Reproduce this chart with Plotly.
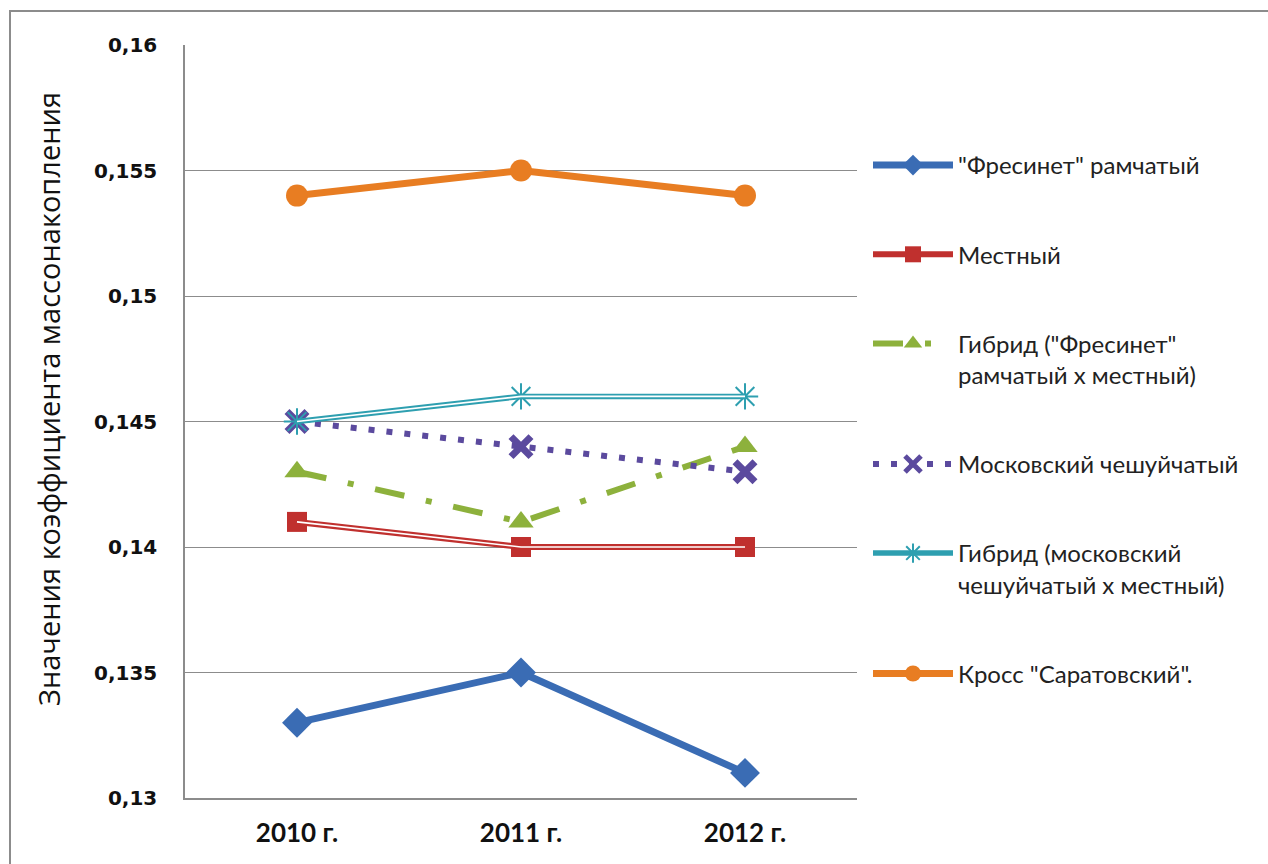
import plotly.graph_objects as go

years = ["2010 г.", "2011 г.", "2012 г."]
frezinet = [0.133, 0.135, 0.131]
mestny = [0.141, 0.140, 0.140]
hybrid_fm = [0.143, 0.141, 0.144]
moskovsky = [0.145, 0.144, 0.143]
hybrid_mm = [0.145, 0.146, 0.146]
saratov = [0.154, 0.155, 0.154]

names = [
    '"Фресинет" рамчатый',
    "Местный",
    'Гибрид ("Фресинет"<br>рамчатый х местный)',
    "Московский чешуйчатый",
    "Гибрид (московский<br>чешуйчатый х местный)",
    'Кросс "Саратовский".',
]
y_ticks = [0.13, 0.135, 0.14, 0.145, 0.15, 0.155, 0.16]
y_ticktext = ["0,13", "0,135", "0,14", "0,145", "0,15", "0,155", "0,16"]
y_title = "Значения коэффициента массонакопления"

W, H = 1268, 864
L, R, T, B = 185, 411, 45, 66
pw, ph = W - L - R, H - T - B

fig = go.Figure()

# Фресинет
fig.add_trace(go.Scatter(x=years, y=frezinet, name=names[0], legendgroup="g1",
    mode="lines+markers", line=dict(color="#3a6cb4", width=7),
    marker=dict(symbol="diamond", size=23, color="#3a6cb4")))
# Местный (double line)
fig.add_trace(go.Scatter(x=years, y=mestny, name=names[1], legendgroup="g2",
    mode="lines+markers", line=dict(color="#c0302e", width=6),
    marker=dict(symbol="square", size=20, color="#c0302e")))
fig.add_trace(go.Scatter(x=years, y=mestny, legendgroup="g2", showlegend=False,
    mode="lines", line=dict(color="#ffffff", width=1.6), hoverinfo="skip"))
# Гибрид Фресинет
fig.add_trace(go.Scatter(x=years, y=hybrid_fm, name=names[2], legendgroup="g3",
    mode="lines+markers", line=dict(color="#8db13c", width=6, dash="30px,22px,6px,22px"),
    marker=dict(symbol="triangle-up", size=22, color="#8db13c")))
# Московский
fig.add_trace(go.Scatter(x=years, y=moskovsky, name=names[3], legendgroup="g4",
    mode="lines+markers", line=dict(color="#5b4a9e", width=6, dash="6px,12px"),
    marker=dict(symbol="x-thin-open", size=20, color="#5b4a9e", line=dict(width=7, color="#5b4a9e"))))
# Гибрид московский (double line)
fig.add_trace(go.Scatter(x=years, y=hybrid_mm, name=names[4], legendgroup="g5",
    mode="lines+markers", line=dict(color="#2e9fb0", width=5.5),
    marker=dict(symbol="asterisk-open", size=22, color="#2e9fb0", line=dict(width=2, color="#2e9fb0"))))
fig.add_trace(go.Scatter(x=years, y=hybrid_mm, legendgroup="g5", showlegend=False,
    mode="lines", line=dict(color="#ffffff", width=1.6), hoverinfo="skip"))
# Саратовский
fig.add_trace(go.Scatter(x=years, y=saratov, name=names[5], legendgroup="g6",
    mode="lines+markers", line=dict(color="#e87d22", width=7),
    marker=dict(symbol="circle", size=22, color="#e87d22")))

def px_x(p):
    return (p - L) / pw

def px_y(p):
    return (H - B - p) / ph

fig.update_layout(
    width=W, height=H,
    margin=dict(l=L, r=R, t=T, b=B, pad=0),
    paper_bgcolor="white", plot_bgcolor="white",
    showlegend=True,
    legend=dict(
        x=px_x(868), y=px_y(143), xanchor="left", yanchor="top",
        font=dict(family="Lato", size=24, color="#222"),
        tracegroupgap=55, itemwidth=80, valign="top",
        bgcolor="rgba(0,0,0,0)",
    ),
    xaxis=dict(
        type="category", range=[-0.5, 2.5], automargin=False,
        showgrid=False, showline=True, linecolor="#8c8c8c", linewidth=1.5,
        ticks="", ticklabelstandoff=11,
        tickfont=dict(family="Lato", size=26, color="#111", weight="bold"),
        zeroline=False,
    ),
    yaxis=dict(
        range=[0.13, 0.16], tickvals=y_ticks, ticktext=y_ticktext, automargin=False,
        showgrid=True, gridcolor="#8c8c8c", gridwidth=1,
        showline=True, linecolor="#8c8c8c", linewidth=1.5,
        ticks="", ticklabelstandoff=22,
        tickfont=dict(family="DejaVu Sans", size=20, color="#111", weight="bold"),
        zeroline=False,
    ),
    annotations=[dict(
        text=y_title, textangle=-90, xref="paper", yref="paper",
        x=px_x(48), y=px_y(399), xanchor="center", yanchor="middle",
        showarrow=False, font=dict(family="Open Sans", size=29, color="#111"),
    )],
    shapes=[dict(
        type="rect", xref="paper", yref="paper",
        x0=px_x(10), x1=px_x(1300), y0=px_y(900), y1=px_y(11),
        line=dict(color="#8c8c8c", width=2), fillcolor="rgba(0,0,0,0)", layer="below",
    )],
)

fig.write_html("out.html")
